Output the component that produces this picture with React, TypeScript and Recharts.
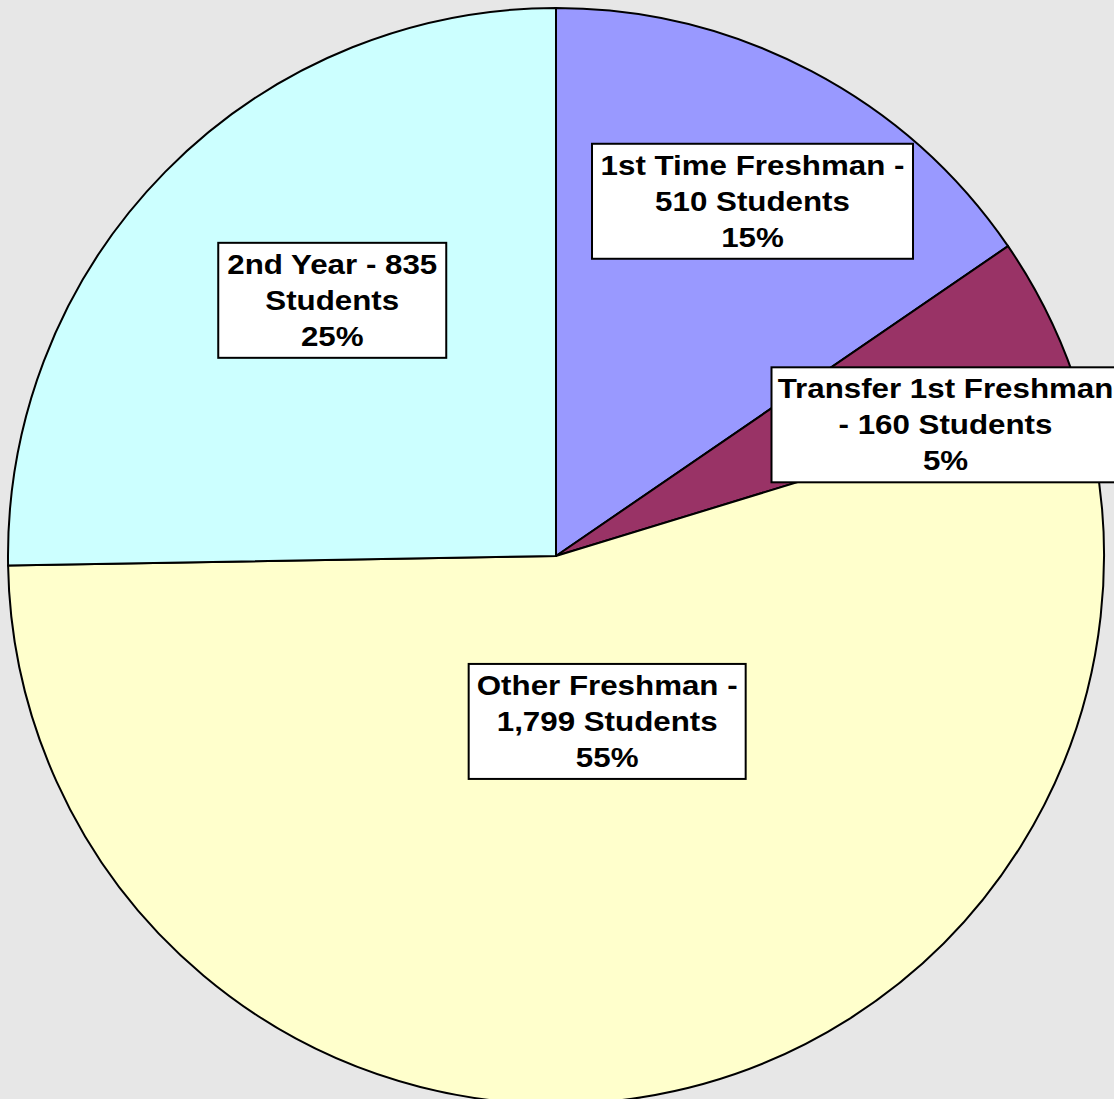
import { PieChart, Pie, Cell } from "recharts";

// 학생 구분 (12시 방향부터 시계방향)
const CATEGORIES = [
  "1st Time Freshman",
  "Transfer 1st Freshman",
  "Other Freshman",
  "2nd Year",
];
const STUDENTS = [510, 160, 1799, 835];
const PERCENT_LABELS = ["15%", "5%", "55%", "25%"];

// 라벨 줄바꿈 (원본 그대로)
const LABEL_LINES = [
  ["1st Time Freshman -", "510 Students", "15%"],
  ["Transfer 1st Freshman", "- 160 Students", "5%"],
  ["Other Freshman -", "1,799 Students", "55%"],
  ["2nd Year - 835", "Students", "25%"],
];

const SLICE_COLORS = ["#9999FF", "#993366", "#FFFFCC", "#CCFFFF"];

// 라벨 박스 배치: 반지름 비율, 각도 보정(도, 시계방향 +), 박스 폭
const LABEL_PLACE = [
  { r: 0.74, dAngle: 1.2, w: 321 },
  { r: 0.75, dAngle: 7.1, w: 348 },
  { r: 0.316, dAngle: -8.2, w: 277 },
  { r: 0.62, dAngle: 4.3, w: 228 },
];

const RAD = Math.PI / 180;
const LINE_H = 36;
const BOX_H = 115;
// 원본 글자가 가로로 넓게 늘어나 있음
const TEXT_STRETCH = 1.16;

const data = CATEGORIES.map((name, i) => ({
  name,
  value: STUDENTS[i],
  pct: PERCENT_LABELS[i],
}));

// eslint-disable-next-line @typescript-eslint/no-explicit-any
const renderLabel = (props: any) => {
  const { cx, cy, midAngle, outerRadius, index } = props;
  const place = LABEL_PLACE[index];
  const angle = midAngle - place.dAngle;
  const rr = outerRadius * place.r;
  const x = cx + rr * Math.cos(-angle * RAD);
  const y = cy + rr * Math.sin(-angle * RAD);
  const lines = LABEL_LINES[index];
  return (
    <g key={`label-${index}`}>
      <rect
        x={x - place.w / 2}
        y={y - BOX_H / 2}
        width={place.w}
        height={BOX_H}
        fill="#ffffff"
        stroke="#000000"
        strokeWidth={2}
      />
      <g transform={`translate(${x},${y}) scale(${TEXT_STRETCH},1)`}>
        {lines.map((line, li) => (
          <text
            key={li}
            x={0}
            y={(li - 1) * LINE_H}
            textAnchor="middle"
            dominantBaseline="central"
            fontFamily="Arial, 'Liberation Sans', sans-serif"
            fontWeight="bold"
            fontSize={27}
            fill="#000000">
            {line}
          </text>
        ))}
      </g>
    </g>
  );
};

export default function App() {
  return (
    <div
      style={{
        position: "absolute",
        left: 0,
        top: 0,
        width: 1114,
        height: 1099,
        overflow: "hidden",
        background: "#e7e7e7",
      }}>
      <PieChart width={1114} height={1099}>
        <Pie
          data={data}
          dataKey="value"
          nameKey="name"
          cx={551}
          cy={551}
          outerRadius={548}
          startAngle={90}
          endAngle={-270}
          stroke="#000000"
          strokeWidth={2}
          labelLine={false}
          label={renderLabel}
          isAnimationActive={false}>
          {data.map((entry, index) => (
            <Cell key={`cell-${index}`} fill={SLICE_COLORS[index]} />
          ))}
        </Pie>
      </PieChart>
    </div>
  );
}
